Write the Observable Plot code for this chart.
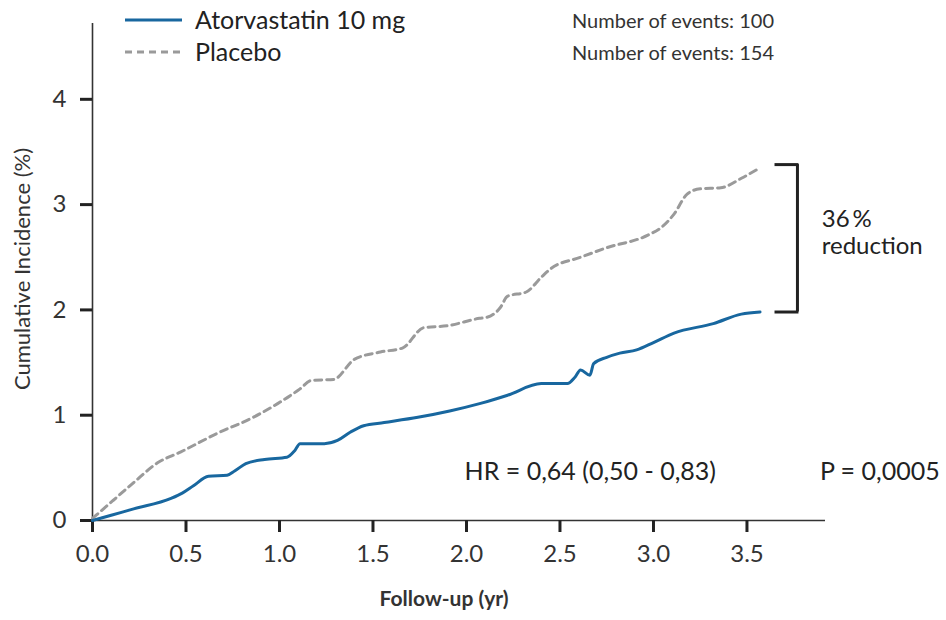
<!DOCTYPE html>
<html>
<head>
<meta charset="utf-8">
<script src="https://cdn.jsdelivr.net/npm/d3@7"></script>
<script src="https://cdn.jsdelivr.net/npm/@observablehq/plot@0.6"></script>
<style>
  html, body { margin: 0; padding: 0; background: #fff; }
  #wrap { position: relative; width: 946px; height: 620px; font-family: Lato, "Noto Sans", sans-serif; color: #222; }
  .leg { position: absolute; display: flex; align-items: center; font-size: 25px; line-height: 1; }
  .leg svg { margin-right: 13px; }
  .ev { position: absolute; font-size: 20px; color: #333; line-height: 1; }
</style>
</head>
<body>
<div id="wrap"></div>
<script>
// Atorvastatin 10 mg
const atorX = [0, 0.10, 0.22, 0.42, 0.48, 0.54, 0.62, 0.72, 0.76, 0.82, 0.92, 1.04, 1.08, 1.11, 1.24, 1.31, 1.38, 1.45, 1.56, 1.74, 1.91, 2.07, 2.22, 2.40, 2.54, 2.58, 2.61, 2.66, 2.68, 2.75, 2.82, 2.91, 3.00, 3.11, 3.32, 3.47, 3.57];
const atorY = [0, 0.05, 0.11, 0.21, 0.26, 0.33, 0.42, 0.43, 0.47, 0.54, 0.58, 0.60, 0.66, 0.73, 0.73, 0.76, 0.84, 0.90, 0.93, 0.98, 1.04, 1.11, 1.19, 1.30, 1.30, 1.36, 1.43, 1.38, 1.49, 1.55, 1.59, 1.62, 1.69, 1.78, 1.87, 1.96, 1.98];
// Placebo
const placeboX = [0, 0.11, 0.22, 0.35, 0.47, 0.67, 0.86, 0.99, 1.11, 1.17, 1.29, 1.40, 1.54, 1.66, 1.77, 1.90, 2.07, 2.11, 2.18, 2.22, 2.32, 2.40, 2.45, 2.61, 2.75, 2.97, 3.04, 3.11, 3.18, 3.25, 3.36, 3.47, 3.57];
const placeboY = [0.02, 0.19, 0.36, 0.55, 0.65, 0.83, 0.98, 1.11, 1.25, 1.33, 1.34, 1.53, 1.60, 1.64, 1.83, 1.85, 1.92, 1.93, 2.02, 2.13, 2.17, 2.31, 2.39, 2.50, 2.59, 2.71, 2.78, 2.91, 3.10, 3.15, 3.16, 3.25, 3.35];

const xTicks = [0, 0.5, 1.0, 1.5, 2.0, 2.5, 3.0, 3.5];
const yTicks = [0, 1, 2, 3, 4];
const seriesNames = ["Atorvastatin 10 mg", "Placebo"];
const eventCounts = [100, 154];
const hrText = "HR = 0,64 (0,50 - 0,83)";
const pText = "P = 0,0005";
const reductionText = ["36\u2009%", "reduction"];

const blue = "#18679f";
const gray = "#9a9a9a";
const xMax = 3.92, yMax = 4.72;

const ator = atorX.map((x, i) => ({x, y: atorY[i]}));
const placebo = placeboX.map((x, i) => ({x, y: placeboY[i]}));
const endA = ator[ator.length - 1], endP = placebo[placebo.length - 1];
const bx = endA.x + 0.20, bx0 = endA.x + 0.08;

const chart = Plot.plot({
  width: 946, height: 620,
  marginLeft: 92, marginRight: 121, marginTop: 23, marginBottom: 100,
  style: {fontFamily: "Lato, 'Noto Sans', sans-serif", color: "#222", background: "#fff"},
  x: {domain: [0, xMax]},
  y: {domain: [0, yMax]},
  marks: [
    Plot.ruleX([0], {y1: 0, y2: yMax, stroke: "#333", strokeWidth: 1.6}),
    Plot.ruleY([0], {x1: 0, x2: xMax, stroke: "#333", strokeWidth: 1.6}),
    Plot.axisX({ticks: xTicks, tickFormat: d3.format(".1f"), tickSize: 12, tickPadding: 12, strokeWidth: 3, stroke: "#222", fill: "#333", fontSize: 24, label: null}),
    Plot.axisY({ticks: yTicks, tickFormat: d3.format("d"), tickSize: 12, tickPadding: 14, strokeWidth: 3, stroke: "#222", fill: "#333", fontSize: 24, label: null}),
    Plot.text(["Follow-up (yr)"], {frameAnchor: "bottom", dx: -15, dy: 85, fontSize: 21, fontWeight: 700, fill: "#333"}),
    Plot.text(["Cumulative Incidence (%)"], {frameAnchor: "left", textAnchor: "middle", rotate: -90, dx: -70, dy: -3, fontSize: 22, fill: "#333"}),
    Plot.line(placebo, {x: "x", y: "y", stroke: gray, strokeWidth: 3, strokeDasharray: "7,5", curve: "monotone-x"}),
    Plot.line(ator, {x: "x", y: "y", stroke: blue, strokeWidth: 3, curve: "monotone-x"}),
    // bracket
    Plot.ruleX([bx], {y1: endA.y, y2: endP.y + 0.03, stroke: "#222", strokeWidth: 3}),
    Plot.ruleY([endP.y + 0.03, endA.y], {x1: bx0, x2: bx + 0.008, stroke: "#222", strokeWidth: 3}),
    Plot.text([reductionText.join("\n")], {x: bx + 0.13, y: (endA.y + endP.y) / 2 + 0.08, textAnchor: "start", lineAnchor: "middle", fontSize: 24, lineHeight: 1.15, fill: "#222"}),
    Plot.text([hrText], {x: 1.99, y: 0.46, textAnchor: "start", fontSize: 25, fill: "#222"}),
    Plot.text([pText], {x: 3.89, y: 0.46, textAnchor: "start", fontSize: 25, fill: "#222"})
  ]
});

const wrap = document.getElementById("wrap");
wrap.appendChild(chart);

const legendTops = [7, 39];
seriesNames.forEach((name, i) => {
  const d = document.createElement("div");
  d.className = "leg";
  d.style.left = "125px";
  d.style.top = legendTops[i] + "px";
  const dash = i === 1 ? 'stroke-dasharray="7,5"' : '';
  const col = i === 0 ? blue : gray;
  d.innerHTML = `<svg width="57" height="20"><line x1="0" x2="57" y1="10" y2="10" stroke="${col}" stroke-width="3" ${dash}/></svg><span>${name}</span>`;
  wrap.appendChild(d);
  const e = document.createElement("div");
  e.className = "ev";
  e.style.left = "572px";
  e.style.top = (legendTops[i] + 3) + "px";
  e.textContent = "Number of events: " + eventCounts[i];
  wrap.appendChild(e);
});
</script>
</body>
</html>
